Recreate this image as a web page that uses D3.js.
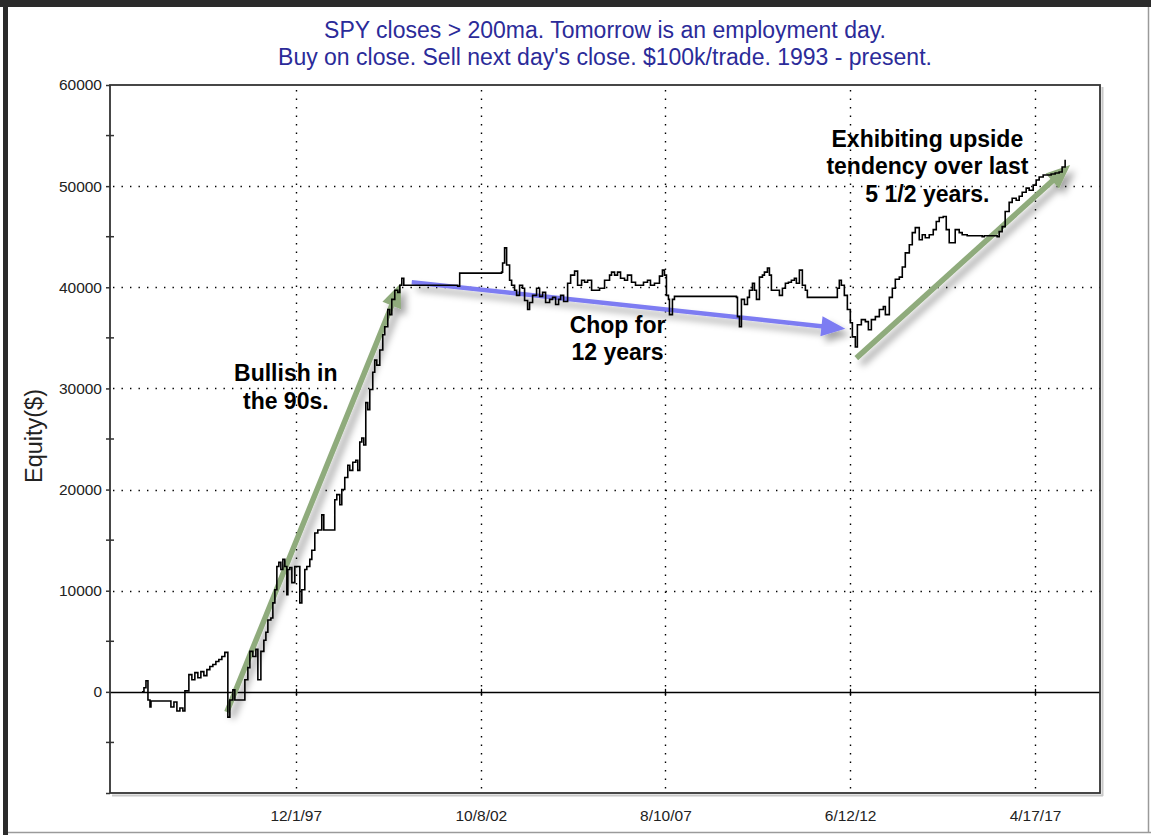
<!DOCTYPE html>
<html>
<head>
<meta charset="utf-8">
<script src="https://cdn.jsdelivr.net/npm/d3@7"></script>
<style>
  html, body { margin: 0; padding: 0; background: #fff; }
  svg { display: block; }
  text { font-family: "Liberation Sans", Arial, sans-serif; }
</style>
</head>
<body>
<svg id="chart" width="1151" height="835"></svg>
<script>
// ---------------- DATA ----------------
const titleLines = [
  "SPY closes > 200ma. Tomorrow is an employment day.",
  "Buy on close. Sell next day's close. $100k/trade. 1993 - present."
];
const yLabel = "Equity($)";
const xDomain = ["1993-01-18", "2018-12-30"];
const yDomain = [-10000, 60000];
const yTickValues = [-10000, 0, 10000, 20000, 30000, 40000, 50000, 60000];
const yMinorTicks = [-5000, 5000, 15000, 25000, 35000, 45000, 55000];
const xTickDates = ["1997-12-01", "2002-10-08", "2007-08-10", "2012-06-12", "2017-04-17"];
const xTickLabels = ["12/1/97", "10/8/02", "8/10/07", "6/12/12", "4/17/17"];

// trade dates (decimal years) and cumulative equity after each trade
const tradeYear = [
  1993.885,1993.937,1993.990,1994.042,1994.095,1994.121,1994.644,1994.723,1994.801,1994.880,
  1994.958,1995.011,1995.115,1995.194,1995.272,1995.351,1995.430,1995.508,1995.587,1995.665,
  1995.744,1995.823,1995.901,1995.980,1996.058,1996.137,1996.189,1996.268,1996.320,1996.529,
  1996.582,1996.660,1996.713,1996.791,1996.870,1996.922,1997.001,1997.079,1997.132,1997.184,
  1997.263,1997.315,1997.368,1997.420,1997.472,1997.525,1997.577,1997.629,1997.682,1997.708,
  1997.760,1997.813,1997.891,1997.970,1998.022,1998.075,1998.153,1998.206,1998.284,1998.337,
  1998.415,1998.494,1998.599,1998.651,1998.887,1998.939,1998.992,1999.070,1999.123,1999.201,
  1999.280,1999.332,1999.411,1999.490,1999.542,1999.595,1999.647,1999.699,1999.752,1999.804,
  1999.857,1999.935,1999.987,2000.040,2000.119,2000.197,2000.249,2000.328,2000.380,2000.433,
  2000.511,2000.590,2000.643,2000.695,2000.747,2002.159,2002.212,2003.311,2003.338,2003.390,
  2003.443,2003.521,2003.574,2003.652,2003.705,2003.783,2003.862,2003.914,2003.993,2004.045,
  2004.124,2004.228,2004.307,2004.385,2004.464,2004.569,2004.647,2004.726,2004.804,2004.857,
  2004.935,2005.040,2005.119,2005.223,2005.302,2005.407,2005.485,2005.564,2005.669,2005.773,
  2005.878,2006.009,2006.140,2006.192,2006.271,2006.349,2006.428,2006.533,2006.611,2006.716,
  2006.821,2006.925,2007.030,2007.135,2007.213,2007.318,2007.449,2007.527,2007.580,2007.632,
  2007.685,2007.711,2007.789,2007.842,2009.465,2009.492,2009.544,2009.596,2009.675,2009.754,
  2009.806,2009.885,2009.937,2009.990,2010.068,2010.147,2010.199,2010.278,2010.330,2010.382,
  2010.461,2010.592,2010.671,2010.749,2010.828,2010.906,2010.985,2011.037,2011.116,2011.194,
  2011.273,2011.325,2012.058,2012.111,2012.163,2012.216,2012.294,2012.373,2012.451,2012.504,
  2012.582,2012.635,2012.739,2012.844,2012.923,2013.001,2013.106,2013.210,2013.315,2013.368,
  2013.472,2013.551,2013.629,2013.734,2013.812,2013.891,2013.996,2014.074,2014.153,2014.257,
  2014.336,2014.415,2014.519,2014.624,2014.703,2014.781,2014.886,2014.965,2015.043,2015.174,
  2015.200,2015.305,2015.383,2015.514,2015.907,2015.959,2016.299,2016.352,2016.430,2016.509,
  2016.613,2016.692,2016.797,2016.875,2016.954,2017.058,2017.137,2017.242,2017.320,2017.399,
  2017.504,2017.608,2017.713,2017.818,2017.922,2018.001,2018.080
];
const equity = [
  0,400,1100,-800,-1500,-900,-1500,-1000,-1900,-1600,
  -1900,100,1700,1200,1900,1400,2000,1600,2200,2500,
  2700,3000,3200,3500,3900,-2500,-800,200,-800,-800,
  1200,2400,4000,3500,4200,1200,4000,5100,5900,7100,
  7300,8800,10100,12400,12800,12100,13100,12400,9600,12100,
  12300,10800,12400,12400,8800,10100,12100,12400,13100,14000,
  15700,16000,17500,16000,16000,19000,19500,18500,20000,21200,
  22400,21900,22700,22900,21900,24700,25100,24400,28600,27900,
  29900,31600,32800,32300,33800,35300,36100,37800,37300,38800,
  39700,39500,40200,40900,40200,40100,41400,41500,42400,43900,
  42200,40700,40200,39700,39200,40200,39900,38700,37800,38500,
  39200,39900,39100,39500,38500,38800,39000,38300,38800,39200,
  38600,40400,41200,41600,40200,40700,40500,40700,39700,39700,
  39900,40700,41200,41500,41200,41500,40900,40700,41200,40500,
  40200,40200,40500,40700,40200,40400,41100,41700,41200,39200,
  38800,37300,38800,39100,39000,37100,36100,38800,38300,39000,
  39700,40400,39700,38800,41000,41200,41500,41900,41200,39700,
  39700,39200,39900,40400,40500,40700,40900,40400,41700,40200,
  39700,39000,39000,39900,40700,40200,39200,37800,36500,35100,
  34100,36300,36800,36600,35800,36800,37100,37800,38100,37300,
  39000,39900,40800,41000,42000,43400,44200,45400,45900,44700,
  45200,44900,45200,45700,46500,46900,47000,45700,44400,44400,
  45700,45400,45200,45100,45000,45100,45000,45500,46000,47500,
  48400,48800,48600,49000,49400,49800,49600,50100,50600,50900,
  51100,51100,51200,51300,51400,51900,52600
];

// annotations (in data coordinates: decimal year, equity)
const arrows = [
  { from: [1996.111, -2000], to: [2000.667, 40400], color: "#8fab7c", width: 5.5 },
  { from: [2000.955, 40500], to: [2012.320, 35900], color: "#7d7cf2", width: 4.5 },
  { from: [2012.607, 33000], to: [2018.211, 52100], color: "#8fab7c", width: 5.5 }
];
const notes = [
  { at: [1997.655, 30700], lines: ["Bullish in", "the 90s."] },
  { at: [2006.350, 35500], lines: ["Chop for", "12 years"] },
  { at: [2014.470, 53900], lines: ["Exhibiting upside", "tendency over last", "5 1/2 years."] }
];

// ---------------- DRAW ----------------
const W = 1151, H = 835;
const plot = { left: 110, top: 85, right: 1100, bottom: 793 };

function yearToDate(v) {
  const yr = Math.floor(v);
  const s = new Date(yr, 0, 1).getTime(), e = new Date(yr + 1, 0, 1).getTime();
  return new Date(s + (v - yr) * (e - s));
}

const svg = d3.select("#chart");
const x = d3.scaleTime().domain(xDomain.map(d => new Date(d + "T00:00:00"))).range([plot.left, plot.right]);
const y = d3.scaleLinear().domain(yDomain).range([plot.bottom, plot.top]);

// window frame
svg.append("rect").attr("x", 0).attr("y", 0).attr("width", W).attr("height", H).attr("fill", "#fff");
svg.append("rect").attr("x", 0).attr("y", 0).attr("width", W).attr("height", 7).attr("fill", "#2b2b2b");
svg.append("rect").attr("x", 3).attr("y", 0).attr("width", 5).attr("height", H).attr("fill", "#2b2b2b");
svg.append("line").attr("x1", 8).attr("x2", W).attr("y1", 832.5).attr("y2", 832.5).attr("stroke", "#9a9a9a").attr("stroke-width", 1.5);
svg.append("line").attr("x1", 1148.5).attr("x2", 1148.5).attr("y1", 7).attr("y2", 833).attr("stroke", "#9a9a9a").attr("stroke-width", 1.5);

// defs
const defs = svg.append("defs");
const f = defs.append("filter").attr("id", "shadow").attr("x", "-20%").attr("y", "-20%").attr("width", "140%").attr("height", "140%");
f.append("feDropShadow").attr("dx", 5).attr("dy", 6).attr("stdDeviation", 3.5)
  .attr("flood-color", "#000").attr("flood-opacity", 0.35);
defs.append("clipPath").attr("id", "clip").append("rect")
  .attr("x", plot.left).attr("y", plot.top).attr("width", plot.right - plot.left).attr("height", plot.bottom - plot.top);

// title (centred over the plot area)
svg.append("g").selectAll("text").data(titleLines).join("text")
  .attr("x", (plot.left + plot.right) / 2).attr("y", (d, i) => 38 + i * 26.5)
  .attr("text-anchor", "middle").attr("font-size", 23).attr("fill", "#2b2b99")
  .text(d => d);

// gridlines
const grid = svg.append("g").attr("stroke", "#000").attr("stroke-width", 1.4).attr("stroke-dasharray", "1.4,7.1");
grid.selectAll("line.h").data(yTickValues.filter(v => v > 0 && v < yDomain[1])).join("line")
  .attr("x1", plot.left + 3).attr("x2", plot.right).attr("y1", d => Math.round(y(d)) + 0.5).attr("y2", d => Math.round(y(d)) + 0.5);
grid.selectAll("line.v").data(xTickDates).join("line")
  .attr("x1", d => Math.round(x(new Date(d + "T00:00:00"))) + 0.5)
  .attr("x2", d => Math.round(x(new Date(d + "T00:00:00"))) + 0.5)
  .attr("y1", plot.top + 5).attr("y2", plot.bottom);

// zero line
svg.append("line").attr("x1", plot.left).attr("x2", plot.right)
  .attr("y1", Math.round(y(0)) + 0.5).attr("y2", Math.round(y(0)) + 0.5)
  .attr("stroke", "#000").attr("stroke-width", 1.3);
svg.append("g").selectAll("line").data(xTickDates).join("line")
  .attr("x1", d => Math.round(x(new Date(d + "T00:00:00"))) + 0.5)
  .attr("x2", d => Math.round(x(new Date(d + "T00:00:00"))) + 0.5)
  .attr("y1", y(0) - 3).attr("y2", y(0) + 4).attr("stroke", "#000").attr("stroke-width", 1.3);

// arrows (behind the curve)
const arrowG = svg.append("g");
arrows.forEach(a => {
  const x1 = x(yearToDate(a.from[0])), y1 = y(a.from[1]);
  const x2 = x(yearToDate(a.to[0])), y2 = y(a.to[1]);
  const ang = Math.atan2(y2 - y1, x2 - x1);
  const headL = 24, headW = 10;
  const bx = x2 - headL * Math.cos(ang), by = y2 - headL * Math.sin(ang);
  const px = -Math.sin(ang), py = Math.cos(ang);
  const g = arrowG.append("g").attr("filter", "url(#shadow)");
  g.append("line").attr("x1", x1).attr("y1", y1).attr("x2", bx + 2 * Math.cos(ang)).attr("y2", by + 2 * Math.sin(ang))
    .attr("stroke", a.color).attr("stroke-width", a.width);
  g.append("polygon")
    .attr("points", [[x2, y2], [bx + px * headW, by + py * headW], [bx - px * headW, by - py * headW]].map(p => p.join(",")).join(" "))
    .attr("fill", a.color);
});

// equity curve
const line = d3.line()
  .x((d, i) => x(yearToDate(tradeYear[i])))
  .y(d => y(d))
  .curve(d3.curveStepAfter);
svg.append("path").datum(equity).attr("clip-path", "url(#clip)")
  .attr("d", line).attr("fill", "none").attr("stroke", "#000").attr("stroke-width", 1.6)
  .attr("stroke-linejoin", "miter");

// plot frame
svg.append("line").attr("x1", plot.right + 2.5).attr("x2", plot.right + 2.5).attr("y1", plot.top + 2).attr("y2", plot.bottom + 3).attr("stroke", "#c8c8c8").attr("stroke-width", 2);
svg.append("line").attr("x1", plot.left + 2).attr("x2", plot.right + 3).attr("y1", plot.bottom + 2.5).attr("y2", plot.bottom + 2.5).attr("stroke", "#c8c8c8").attr("stroke-width", 2);
svg.append("rect").attr("x", plot.left).attr("y", plot.top).attr("width", plot.right - plot.left).attr("height", plot.bottom - plot.top)
  .attr("fill", "none").attr("stroke", "#333").attr("stroke-width", 1.8);

// y axis
const yAxis = d3.axisLeft(y).tickValues(yTickValues).tickSize(4).tickPadding(4)
  .tickFormat(d => (d < 0 || d > 60000) ? "" : String(d));
const gy = svg.append("g").attr("transform", `translate(${plot.left},0)`).call(yAxis);
gy.select(".domain").remove();
gy.selectAll(".tick line").attr("stroke", "#333").attr("stroke-width", 1.5);
gy.selectAll(".tick text").attr("font-size", 15.5).attr("fill", "#222").attr("font-family", "Liberation Sans, Arial, sans-serif");
svg.append("g").selectAll("line").data(yMinorTicks).join("line")
  .attr("x1", plot.left - 4).attr("x2", plot.left + 4)
  .attr("y1", d => y(d)).attr("y2", d => y(d)).attr("stroke", "#333").attr("stroke-width", 1.5);

// x axis labels
const xAxis = d3.axisBottom(x).tickValues(xTickDates.map(d => new Date(d + "T00:00:00")))
  .tickSize(0).tickPadding(17).tickFormat((d, i) => xTickLabels[i]);
const gx = svg.append("g").attr("transform", `translate(0,${plot.bottom})`).call(xAxis);
gx.select(".domain").remove();
gx.selectAll(".tick text").attr("font-size", 15.5).attr("fill", "#222").attr("font-family", "Liberation Sans, Arial, sans-serif");

// y label
svg.append("text").attr("transform", "translate(42,436) rotate(-90)")
  .attr("text-anchor", "middle").attr("font-size", 23.5).attr("fill", "#222").text(yLabel);

// notes
const noteG = svg.append("g");
notes.forEach(n => {
  const t = noteG.append("text").attr("text-anchor", "middle").attr("font-weight", "bold")
    .attr("font-size", 23).attr("fill", "#000")
    .attr("x", x(yearToDate(n.at[0]))).attr("y", y(n.at[1]));
  n.lines.forEach((l, i) => t.append("tspan").attr("x", x(yearToDate(n.at[0]))).attr("dy", i === 0 ? 0 : 27.5).text(l));
});
</script>
</body>
</html>
